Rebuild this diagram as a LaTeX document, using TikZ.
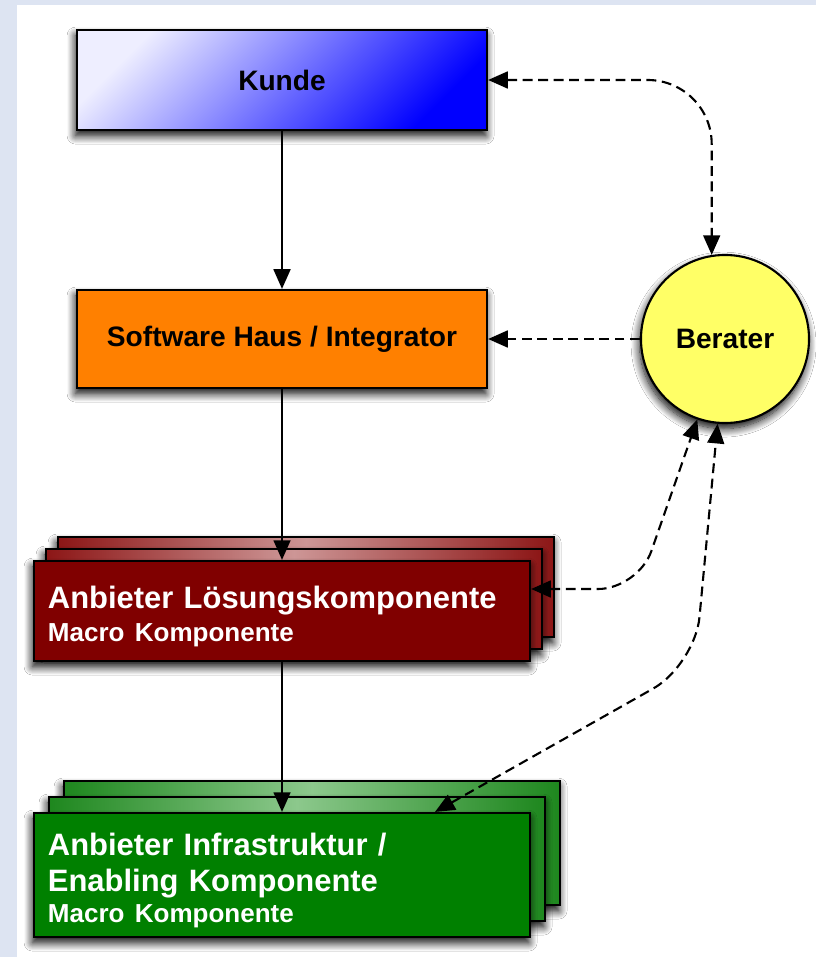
\documentclass[tikz,border=0pt]{standalone}
\usepackage{fontspec}
\setsansfont{Liberation Sans}
\usepackage{tikz}
\usetikzlibrary{calc,arrows.meta,shadows.blur}
\usepackage{xcolor}

\definecolor{kundelight}{RGB}{238,238,255}
\definecolor{haus}{RGB}{255,128,0}
\definecolor{berat}{RGB}{255,255,102}
\definecolor{rotdark}{RGB}{128,0,0}
\definecolor{rotedge}{RGB}{140,22,22}
\definecolor{rotmid}{RGB}{205,150,150}
\definecolor{gruendark}{RGB}{0,128,0}
\definecolor{gruenedge}{RGB}{30,135,30}
\definecolor{gruenmid}{RGB}{140,200,140}
\definecolor{raster}{RGB}{221,228,242}

\tikzset{
  box/.style={draw=black, line width=1.5pt, inner sep=0pt,
    font=\sffamily\bfseries\fontsize{20}{24}\selectfont,
    blur shadow={shadow xshift=-1pt, shadow yshift=-4pt, shadow blur radius=6pt, shadow blur steps=12, shadow opacity=100}},
  stackbox/.style={box, text=white, align=left, text width=11.7cm, inner xsep=0.35cm,
    font=\sffamily\bfseries\fontsize{22}{25.5}\selectfont,
    execute at begin node={\rule{0pt}{24pt}}},
  pfeil/.style={line width=1.5pt, -{Triangle[length=14pt,width=12pt]}},
  strich/.style={pfeil, dash pattern=on 7pt off 4pt},
  beide/.style={strich, {Triangle[length=14pt,width=12pt]}-{Triangle[length=14pt,width=12pt]}}
}

\begin{document}
\begin{tikzpicture}[x=0.025cm, y=-0.025cm]
\fill[white] (0,0) rectangle (816,957);
\useasboundingbox (0,0) rectangle (816,957);
\fill[raster] (0,0) rectangle (17,957);
\fill[raster] (0,0) rectangle (816,5);

\node[box, minimum width=10.25cm, minimum height=2.5cm, top color=kundelight, bottom color=blue, shading angle=45] (kunde) at (282,80) {Kunde};
\node[box, minimum width=10.25cm, minimum height=2.45cm, fill=haus] (haus) at (282,339) {Software Haus / Integrator};
\node[box, circle, minimum size=4.2cm, fill=berat] (berater) at (725,339) {Berater};

\node[stackbox, minimum height=2.5cm, left color=rotedge, right color=rotedge, middle color=rotmid] (rot3) at (306,587) {};
\node[stackbox, minimum height=2.5cm, left color=rotedge, right color=rotedge, middle color=rotmid] (rot2) at (294,599) {};
\node[stackbox, minimum height=2.5cm, fill=rotdark] (rot) at (282,611) {Anbieter Lösungskomponente\\[-2pt]{\fontsize{18.5}{22}\selectfont Macro Komponente}};

\node[stackbox, minimum height=3.1cm, left color=gruenedge, right color=gruenedge, middle color=gruenmid] (gruen3) at (312,843) {};
\node[stackbox, minimum height=3.1cm, left color=gruenedge, right color=gruenedge, middle color=gruenmid] (gruen2) at (297,859) {};
\node[stackbox, minimum height=3.1cm, fill=gruendark] (gruen) at (282,875) {Anbieter Infrastruktur /\\Enabling Komponente\\[-3pt]{\fontsize{18.5}{22}\selectfont Macro Komponente}};

\draw[pfeil] (kunde) -- (haus);
\draw[pfeil] (haus) -- (rot);
\draw[pfeil] (rot) -- (gruen);
\draw[strich] (berater) -- (haus);
\draw[beide, rounded corners=1.6cm] (kunde.east) -| (berater.99);
\draw[beide, rounded corners=1cm] ($(rot.east)+(0,-22)$) -- ++(107,0) -- (berater.251);
\draw[beide, rounded corners=1.2cm] ($(gruen.north)+(153,0)$) -- ++(260,-147) -- (berater.265);
\end{tikzpicture}
\end{document}
